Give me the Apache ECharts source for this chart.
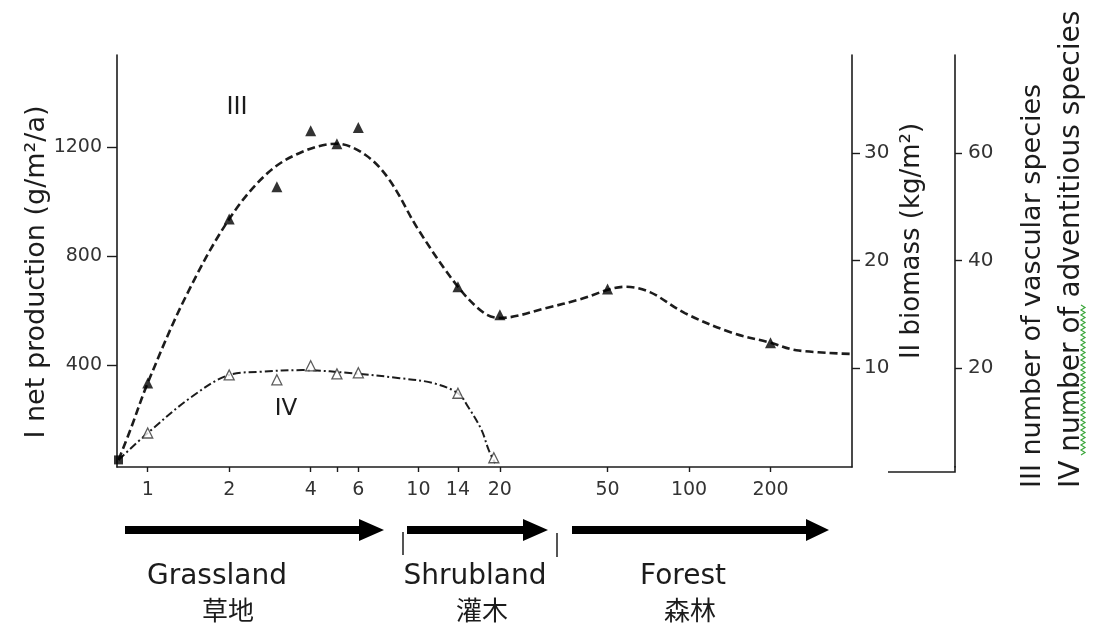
<!DOCTYPE html>
<html><head><meta charset="utf-8">
<script src="https://cdn.jsdelivr.net/npm/echarts@6/dist/echarts.min.js"></script>
<style>html,body{margin:0;padding:0;background:#fff}#c{width:1093px;height:626px}</style>
</head><body><div id="c"></div>
<script>
// ---- data ----
const xTickValues = [1, 2, 4, 5, 6, 10, 14, 20, 50, 100, 200];
const xLabelValues = [1, 2, 4, 6, 10, 14, 20, 50, 100, 200];
const productionTicks = [400, 800, 1200];
const biomassTicks = [10, 20, 30];
const speciesTicks = [20, 40, 60];

// III number of vascular species (observed points, filled triangles)
const vascularPoints = [[1, 17.2], [2, 47.7], [3, 53.7], [4, 64.1], [5, 61.7], [6, 64.7], [14, 35.1], [20, 29.9], [50, 34.7], [200, 24.7]];
// III fitted curve (dashed)
const vascularCurve = [[0.78, 2.9], [0.863, 8.5], [1, 17.2], [1.38, 33.2], [2, 47.7], [2.78, 56.3], [3.73, 60.2], [5, 61.7], [6.38, 59.6], [7.81, 55.0], [10, 45.7], [14, 35.1], [17.5, 30.2], [20, 29.3], [30, 31.2], [39.2, 32.7], [58.3, 35.1], [71.7, 34.1], [96.5, 30.2], [145, 26.5], [200, 24.7], [249, 23.3], [400, 22.6]];
// IV number of adventitious species (open triangles)
const adventitiousPoints = [[1, 7.9], [2, 18.7], [3, 17.8], [4, 20.4], [5, 18.9], [6, 19.1], [14, 15.3], [19, 3.3]];
// IV fitted curve (dash-dot)
const adventitiousCurve = [[0.78, 2.9], [1, 7.9], [1.45, 14.6], [2, 18.7], [2.61, 19.3], [3.73, 19.6], [6, 18.9], [8.53, 18.1], [11.3, 17.2], [14, 15.3], [15.3, 12.7], [17.1, 8.5], [18.2, 4.7], [19.2, 2.3]];
const originPoint = [[0.78, 2.9]];

const stageLabels = ['Grassland', 'Shrubland', 'Forest'];
const stageLabelsZh = ['草地', '灌木', '森林'];

// ---- chart ----
const FONT = 'DejaVu Sans';
const INK = '#1c1c1c';
const TXT = '#333';
const plain = v => String(v);
const chart = echarts.init(document.getElementById('c'), null, {renderer: 'canvas'});

function arrow(x1, x2, hx, y) {
  const th = 4, hh = 11;
  return {type: 'polygon', shape: {points: [[x1, y - th], [hx, y - th], [hx, y - hh], [x2, y], [hx, y + hh], [hx, y + th], [x1, y + th]]}, style: {fill: '#000'}};
}
const squiggle = [];
for (let y = 305, i = 0; y <= 457; y += 2.5, i++) squiggle.push([1083 + (i % 2 ? 2 : -2), y]);

const yCommon = {
  type: 'value', splitLine: {show: false},
  axisLine: {show: true, lineStyle: {color: INK, width: 1.6}},
};

chart.setOption({
  animation: false,
  backgroundColor: '#fff',
  grid: {left: 117, right: 241, top: 55, bottom: 159},
  xAxis: {
    type: 'log', logBase: 10, min: 0.77, max: 400,
    axisLine: {show: true, lineStyle: {color: INK, width: 1.6}},
    axisTick: {show: true, customValues: xTickValues, length: 5, inside: false, lineStyle: {color: INK, width: 1.4}},
    axisLabel: {customValues: xLabelValues, formatter: plain, fontSize: 19, fontFamily: FONT, color: TXT, margin: 14},
    splitLine: {show: false}, minorTick: {show: false}
  },
  yAxis: [
    Object.assign({}, yCommon, {
      position: 'left', min: 25.7, max: 1537,
      axisTick: {show: true, customValues: productionTicks, length: 10, lineStyle: {color: INK, width: 1.4}},
      axisLabel: {customValues: productionTicks, formatter: plain, fontSize: 19, fontFamily: FONT, color: TXT, margin: 15}
    }),
    Object.assign({}, yCommon, {
      position: 'right', offset: 0, min: 0.79, max: 39.1,
      axisTick: {show: true, customValues: biomassTicks, length: 8, lineStyle: {color: INK, width: 1.4}},
      axisLabel: {customValues: biomassTicks, formatter: plain, fontSize: 20, fontFamily: FONT, color: TXT, margin: 12}
    }),
    Object.assign({}, yCommon, {
      position: 'right', offset: 103, min: 1.58, max: 78.2,
      axisTick: {show: true, customValues: speciesTicks, length: 7, lineStyle: {color: INK, width: 1.4}},
      axisLabel: {customValues: speciesTicks, formatter: plain, fontSize: 20, fontFamily: FONT, color: TXT, margin: 13}
    })
  ],
  series: [
    {type: 'line', name: 'III', xAxisIndex: 0, yAxisIndex: 2, data: vascularCurve, smooth: 0.35, showSymbol: false,
      lineStyle: {color: INK, width: 2.6, type: [8, 4]}, z: 2},
    {type: 'line', name: 'IV', xAxisIndex: 0, yAxisIndex: 2, data: adventitiousCurve, smooth: 0.35, showSymbol: false,
      lineStyle: {color: INK, width: 2, type: [8, 3, 2, 3]}, z: 2},
    {type: 'scatter', name: 'III points', xAxisIndex: 0, yAxisIndex: 2, data: vascularPoints, symbol: 'triangle', symbolSize: 11,
      itemStyle: {color: '#000'}, z: 3},
    {type: 'scatter', name: 'IV points', xAxisIndex: 0, yAxisIndex: 2, data: adventitiousPoints, symbol: 'triangle', symbolSize: 10,
      itemStyle: {color: '#fff', borderColor: '#333', borderWidth: 1.3}, z: 3},
    {type: 'scatter', name: 'origin', xAxisIndex: 0, yAxisIndex: 2, data: originPoint, symbol: 'rect', symbolSize: 9,
      itemStyle: {color: '#000'}, z: 3, clip: false}
  ],
  graphic: [
    // axis names
    {type: 'text', x: 37, y: 272, rotation: Math.PI / 2, style: {text: 'I net production (g/m²/a)', font: '27px "DejaVu Sans"', fill: INK, align: 'center', verticalAlign: 'middle'}},
    {type: 'text', x: 912, y: 241, rotation: Math.PI / 2, style: {text: 'II biomass (kg/m²)', font: '26px "DejaVu Sans"', fill: INK, align: 'center', verticalAlign: 'middle'}},
    {type: 'text', x: 1033, y: 488, rotation: Math.PI / 2, style: {text: 'III number of vascular species', font: '27px "DejaVu Sans"', fill: INK, align: 'left', verticalAlign: 'middle'}},
    {type: 'text', x: 1072, y: 488, rotation: Math.PI / 2, style: {text: 'IV number of adventitious species', font: '28px "DejaVu Sans"', fill: INK, align: 'left', verticalAlign: 'middle'}},
    {type: 'polyline', shape: {points: squiggle}, style: {stroke: '#3aa63a', lineWidth: 1.2, fill: null}},
    // third axis bottom stub
    {type: 'polyline', shape: {points: [[888, 472], [955, 472], [955, 466]]}, style: {stroke: INK, lineWidth: 1.6, fill: null}},
    // curve labels
    {type: 'text', x: 237, y: 108, style: {text: 'III', font: '24px "DejaVu Sans"', fill: INK, align: 'center', verticalAlign: 'middle'}},
    {type: 'text', x: 286, y: 409, style: {text: 'IV', font: '23px "DejaVu Sans"', fill: INK, align: 'center', verticalAlign: 'middle'}},
    // arrows
    arrow(125, 384, 359, 530),
    arrow(407, 548, 523, 530),
    arrow(572, 829, 806, 530),
    {type: 'line', shape: {x1: 403, y1: 532, x2: 403, y2: 555}, style: {stroke: INK, lineWidth: 1.5}},
    {type: 'line', shape: {x1: 557, y1: 533, x2: 557, y2: 557}, style: {stroke: INK, lineWidth: 1.5}},
    // stage labels
    {type: 'text', x: 217, y: 577, style: {text: stageLabels[0], font: '28px "DejaVu Sans"', fill: INK, align: 'center', verticalAlign: 'middle'}},
    {type: 'text', x: 475, y: 577, style: {text: stageLabels[1], font: '28px "DejaVu Sans"', fill: INK, align: 'center', verticalAlign: 'middle'}},
    {type: 'text', x: 683, y: 577, style: {text: stageLabels[2], font: '28px "DejaVu Sans"', fill: INK, align: 'center', verticalAlign: 'middle'}},
    {type: 'text', x: 228, y: 610, style: {text: stageLabelsZh[0], font: '26px "Noto Sans CJK SC"', fill: INK, align: 'center', verticalAlign: 'middle'}},
    {type: 'text', x: 482, y: 610, style: {text: stageLabelsZh[1], font: '26px "Noto Sans CJK SC"', fill: INK, align: 'center', verticalAlign: 'middle'}},
    {type: 'text', x: 690, y: 610, style: {text: stageLabelsZh[2], font: '26px "Noto Sans CJK SC"', fill: INK, align: 'center', verticalAlign: 'middle'}}
  ]
});
</script>
</body></html>
